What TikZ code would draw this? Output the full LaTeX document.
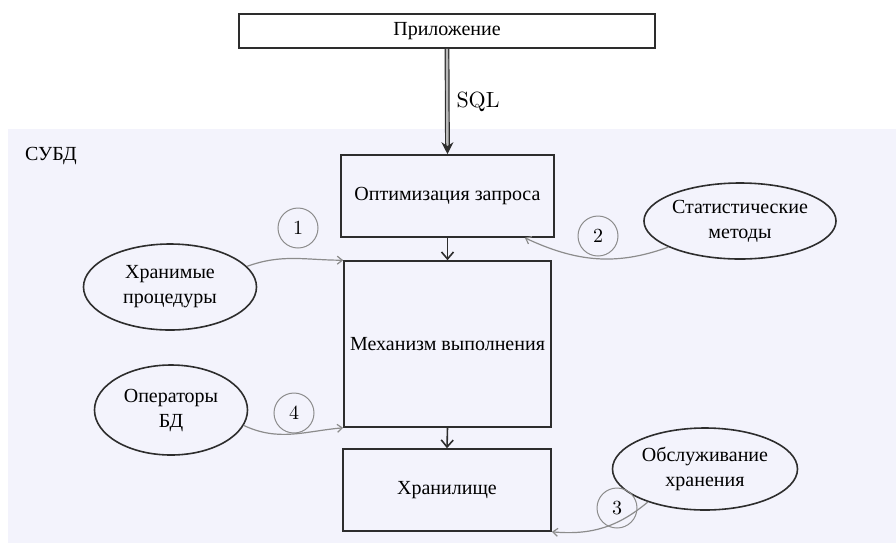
\documentclass[tikz,border=0pt]{standalone}
\usepackage{fontspec}
\setmainfont{Liberation Serif}
\newfontfamily\lmfont{Latin Modern Roman}
\usetikzlibrary{shapes.geometric,arrows.meta}
\definecolor{bgc}{RGB}{243,243,252}
\definecolor{linec}{RGB}{45,45,45}
\definecolor{curvec}{RGB}{140,140,140}
\tikzset{
  box/.style={draw=linec, line width=0.8pt, fill=bgc, inner sep=0pt, align=center},
  appbox/.style={draw=linec, line width=0.8pt, fill=white, inner sep=0pt},
  oval/.style={ellipse, draw=linec, line width=0.8pt, inner sep=0pt, align=center},
  num/.style={circle, draw=curvec, line width=0.5pt, minimum size=20pt, inner sep=0pt, font=\lmfont\fontsize{10}{12}\selectfont},
  flow/.style={draw=linec, line width=0.8pt, -{Straight Barb[length=3.5pt,width=6pt,line width=0.8pt]}},
  ctl/.style={draw=curvec, line width=0.6pt, -{Straight Barb[length=2.5pt,width=4pt]}},
  every node/.style={font=\fontsize{10}{12.5}\selectfont}
}
\begin{document}
\begin{tikzpicture}[x=0.5pt,y=-0.5pt]
\useasboundingbox (0,0) rectangle (896,543);
\fill[bgc] (8,129) rectangle (896,543);
\node[anchor=west] (dbms) at (18,156) {СУБД};

\node[appbox, minimum width=208pt, minimum height=17pt] (app) at (447,31) {Приложение};
\node[box, minimum width=106.5pt, minimum height=41pt] (opt) at (447.5,196) {Оптимизация запроса};
\node[box, minimum width=103.5pt, minimum height=83pt] (exec) at (447.5,344) {Механизм выполнения};
\node[box, minimum width=104pt, minimum height=41pt] (store) at (447,490) {Хранилище};

\node[oval, minimum width=86.5pt, minimum height=43pt] (e1) at (170,287) {Хранимые\\процедуры};
\node[oval, minimum width=82.5pt, minimum height=38pt] (e2) at (740,221) {Статистические\\методы};
\node[oval, minimum width=92.5pt, minimum height=41pt] (e3) at (705,469) {Обслуживание\\хранения};
\node[oval, minimum width=76.5pt, minimum height=45pt] (e4) at (171,410) {Операторы\\БД};

\node[num] (c1) at (298,228) {1};
\node[num] (c2) at (598,236) {2};
\node[num] (c3) at (617,508) {3};
\node[num] (c4) at (294,413) {4};

\draw[draw=linec, line width=0.6pt, double=curvec!60, double distance=1.2pt,
  -{Stealth[length=6pt,width=6pt,fill=linec]}] (app.south) -- (opt.north)
  node[midway, right=1pt, font=\lmfont\fontsize{11}{13}\selectfont] (sql) {SQL};

\draw[flow] (opt.south) -- (exec.north);
\draw[flow] (exec.south) -- (store.north);

\coordinate (optin) at ([xshift=-15pt]opt.south east);
\draw[ctl] (e1.15) to[out=20,in=180] (exec.north west);
\draw[ctl] (e2.200) to[out=200,in=-25] (optin);
\draw[ctl] (e4.-12) to[out=-25,in=185] (exec.south west);
\draw[ctl] (e3.210) to[out=220,in=-5] (store.south east);
\end{tikzpicture}
\end{document}
